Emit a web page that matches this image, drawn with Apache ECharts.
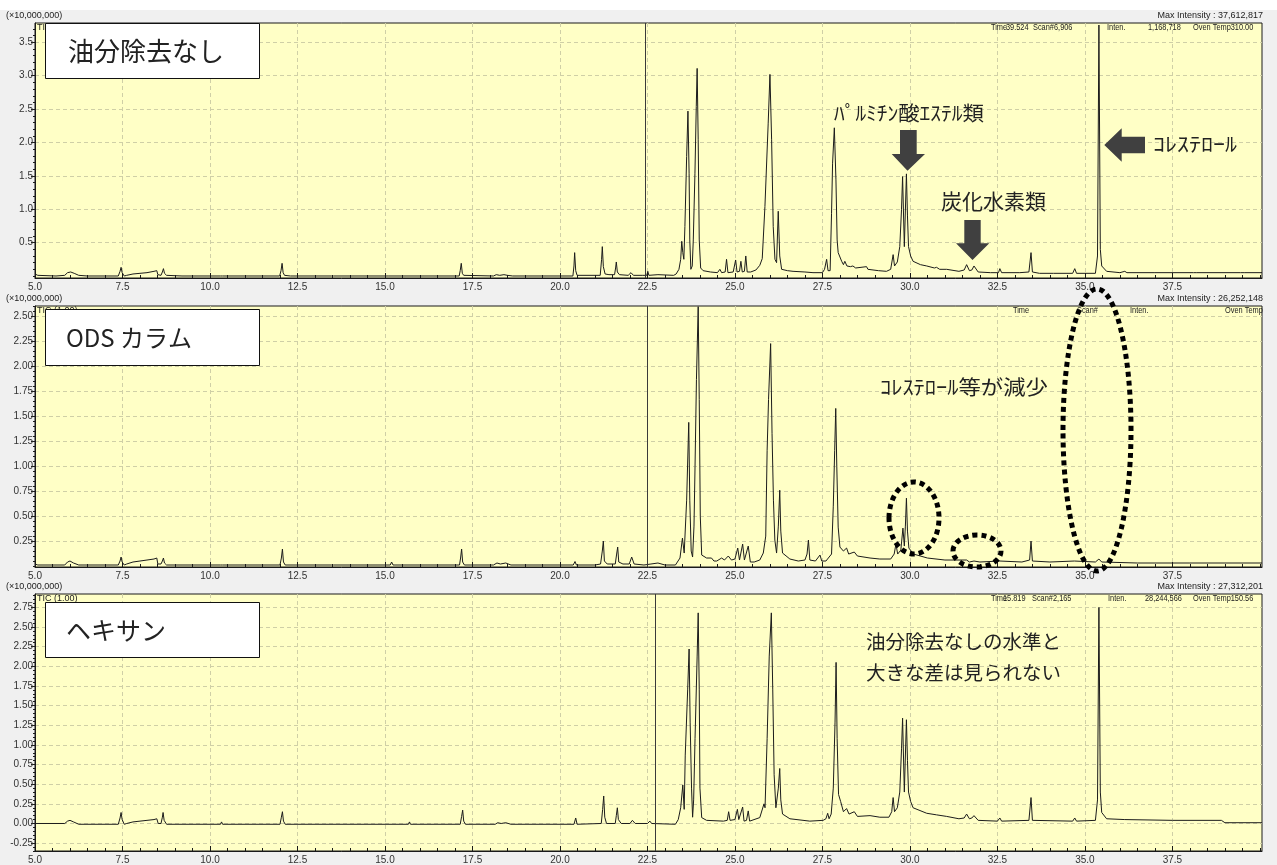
<!DOCTYPE html>
<html><head><meta charset="utf-8">
<script src="https://cdn.jsdelivr.net/npm/echarts@6/dist/echarts.min.js"></script>
<style>html,body{margin:0;padding:0;background:#f0f0f0}#c{width:1277px;height:865px}</style>
</head><body><div id="c"></div>
<script>
// ---------------- data (time [min], intensity [x10,000,000]) ----------------
const xTickLabels = [5.0, 7.5, 10.0, 12.5, 15.0, 17.5, 20.0, 22.5, 25.0, 27.5, 30.0, 32.5, 35.0, 37.5];
const xGridValues = [7.5, 10.0, 12.5, 15.0, 17.5, 20.0, 22.5, 25.0, 27.5, 30.0, 32.5, 35.0, 37.5];
const yLabelsTop = [0.5, 1.0, 1.5, 2.0, 2.5, 3.0, 3.5];
const yLabelsMid = [0.25, 0.50, 0.75, 1.00, 1.25, 1.50, 1.75, 2.00, 2.25, 2.50];
const yLabelsBot = [-0.25, 0.00, 0.25, 0.50, 0.75, 1.00, 1.25, 1.50, 1.75, 2.00, 2.25, 2.50, 2.75];
const panelTitles = ['油分除去なし', 'ODS カラム', 'ヘキサン'];
const maxIntensityTexts = ['Max Intensity : 37,612,817', 'Max Intensity : 26,252,148', 'Max Intensity : 27,312,201'];
const cursorTimes = [22.45, 22.48, 22.73];

const traceNoRemoval = [
[5.00,0.03],[5.04,0.05],[5.08,0.01],[5.60,0.00],[5.85,0.01],[5.93,0.05],[6.02,0.06],[6.12,0.04],[6.25,0.01],[6.50,0.00],
[7.38,0.00],[7.43,0.07],[7.46,0.13],[7.49,0.05],[7.55,0.00],[7.62,0.01],[7.80,0.03],[8.00,0.04],[8.20,0.05],[8.40,0.07],[8.48,0.08],[8.51,0.02],[8.60,0.01],[8.64,0.06],[8.67,0.11],[8.70,0.04],[8.76,0.01],[9.20,0.00],
[10.30,0.00],[10.33,0.02],[10.36,0.00],
[11.99,0.00],[12.03,0.08],[12.06,0.19],[12.09,0.05],[12.13,0.01],[12.30,0.00],
[13.47,0.00],[13.50,0.02],[13.53,0.00],[15.03,0.00],[15.06,0.01],[15.09,0.00],
[17.12,0.00],[17.15,0.08],[17.18,0.19],[17.21,0.04],[17.25,0.01],
[18.10,0.00],[18.18,0.02],[18.28,0.01],[18.40,0.02],[18.50,0.01],[18.65,0.00],
[20.37,0.00],[20.40,0.15],[20.42,0.35],[20.45,0.08],[20.49,0.01],
[21.15,0.01],[21.19,0.25],[21.21,0.44],[21.24,0.14],[21.29,0.03],[21.40,0.02],
[21.56,0.02],[21.59,0.12],[21.61,0.21],[21.64,0.06],[21.70,0.02],
[21.95,0.01],[22.03,0.05],[22.10,0.01],[22.35,0.01],[22.48,0.01],[22.51,0.07],[22.54,0.01],[22.80,0.02],[22.84,0.01],[23.25,0.01],
[23.32,0.03],[23.40,0.10],[23.45,0.25],[23.48,0.52],[23.51,0.35],[23.54,0.25],[23.57,0.74],[23.62,1.79],[23.657,2.47],[23.69,1.54],[23.71,0.54],[23.74,0.10],[23.78,0.15],[23.81,0.54],[23.857,1.54],[23.895,2.54],[23.92,3.11],[23.95,2.04],[23.98,0.54],[24.02,0.12],[24.09,0.08],[24.30,0.06],[24.50,0.05],
[24.57,0.10],[24.62,0.05],[24.72,0.06],[24.76,0.25],[24.80,0.05],[24.95,0.06],[25.02,0.24],[25.06,0.06],[25.13,0.07],[25.17,0.22],[25.21,0.06],[25.27,0.07],[25.31,0.30],[25.35,0.06],[25.45,0.06],[25.60,0.09],[25.71,0.16],[25.78,0.26],[25.857,1.04],[25.95,2.29],[26.00,3.02],[26.048,2.04],[26.094,0.74],[26.143,0.25],[26.19,0.20],[26.237,0.97],[26.28,0.30],[26.334,0.10],[26.50,0.08],[26.66,0.07],[27.00,0.06],[27.23,0.05],[27.50,0.05],[27.56,0.10],[27.62,0.25],[27.66,0.08],[27.70,0.06],[27.72,0.08],[27.76,0.94],[27.79,1.69],[27.84,2.22],[27.886,1.44],[27.92,0.54],[27.95,0.35],[28.05,0.22],[28.10,0.17],[28.14,0.22],[28.20,0.15],[28.30,0.14],[28.37,0.15],[28.45,0.12],[28.76,0.14],[28.80,0.10],[29.10,0.08],[29.33,0.07],[29.45,0.10],[29.52,0.32],[29.56,0.15],[29.64,0.21],[29.71,0.44],[29.76,1.00],[29.79,1.49],[29.84,0.44],[29.90,1.53],[29.93,0.90],[29.96,0.44],[30.02,0.30],[30.09,0.22],[30.30,0.17],[30.48,0.15],[30.70,0.12],[30.76,0.13],[30.85,0.10],[31.05,0.10],[31.40,0.07],[31.55,0.09],[31.62,0.17],[31.70,0.08],[31.77,0.09],[31.83,0.15],[31.95,0.06],[32.30,0.05],[32.53,0.05],[32.57,0.11],[32.62,0.05],[33.14,0.05],[33.40,0.06],[33.46,0.35],[33.50,0.06],[33.70,0.04],[34.10,0.04],[34.65,0.04],[34.71,0.11],[34.76,0.04],[35.30,0.04],[35.36,0.30],[35.40,3.76],[35.44,0.40],[35.48,0.15],[35.62,0.07],[36.00,0.05],[36.14,0.07],[36.20,0.05],[37.00,0.05],[38.10,0.05],[38.14,0.07],[38.18,0.05],[39.45,0.05],[39.50,0.07],[39.55,0.05],[40.06,0.05]
];

const traceODS = [
[5.00,0.02],[5.04,0.04],[5.08,0.01],[5.85,0.01],[5.93,0.04],[6.00,0.05],[6.10,0.03],[6.25,0.01],[7.38,0.01],[7.43,0.05],[7.46,0.09],[7.49,0.04],[7.55,0.01],[7.62,0.02],[7.80,0.04],[8.00,0.05],[8.20,0.06],[8.40,0.07],[8.48,0.08],[8.51,0.02],[8.60,0.02],[8.64,0.05],[8.67,0.08],[8.70,0.03],[8.76,0.01],[9.20,0.01],
[10.30,0.01],[10.33,0.02],[10.36,0.01],[12.00,0.01],[12.04,0.08],[12.07,0.17],[12.10,0.04],[12.15,0.01],[13.47,0.01],[13.50,0.02],[13.53,0.01],[15.15,0.01],[15.19,0.04],[15.23,0.01],
[17.13,0.01],[17.16,0.08],[17.19,0.17],[17.22,0.04],[17.27,0.01],[18.10,0.01],[18.20,0.03],[18.30,0.02],[18.45,0.03],[18.60,0.01],
[20.38,0.01],[20.43,0.045],[20.47,0.01],[21.00,0.01],[21.16,0.02],[21.21,0.15],[21.24,0.25],[21.27,0.05],[21.35,0.02],[21.58,0.02],[21.62,0.12],[21.65,0.19],[21.68,0.04],[21.80,0.02],[21.98,0.02],[22.05,0.09],[22.12,0.02],[22.40,0.01],[22.60,0.02],[22.80,0.03],[23.00,0.01],[23.30,0.01],
[23.35,0.02],[23.43,0.08],[23.50,0.28],[23.55,0.13],[23.62,0.66],[23.68,1.44],[23.71,0.66],[23.75,0.15],[23.79,0.09],[23.83,0.40],[23.86,1.00],[23.90,1.87],[23.95,2.60],[23.98,1.67],[24.01,0.50],[24.05,0.11],[24.19,0.08],
[24.33,0.08],[24.40,0.05],[24.48,0.05],[24.62,0.08],[24.70,0.06],[24.81,0.10],[24.90,0.06],[25.00,0.07],[25.08,0.18],[25.13,0.06],[25.22,0.22],[25.27,0.06],[25.38,0.20],[25.44,0.04],[25.55,0.04],[25.71,0.06],[25.81,0.13],[25.88,0.30],[25.92,1.16],[25.96,1.67],[26.02,2.23],[26.06,1.33],[26.10,0.66],[26.14,0.26],[26.19,0.13],[26.24,0.40],[26.28,0.76],[26.31,0.35],[26.36,0.13],[26.57,0.07],[26.81,0.05],[27.00,0.06],[27.06,0.12],[27.10,0.26],[27.14,0.06],[27.30,0.05],[27.43,0.11],[27.48,0.05],[27.60,0.05],[27.76,0.12],[27.81,0.60],[27.85,1.16],[27.88,1.58],[27.91,1.00],[27.95,0.39],[28.00,0.19],[28.10,0.15],[28.19,0.18],[28.25,0.12],[28.41,0.14],[28.50,0.10],[28.86,0.08],[29.14,0.07],
[29.45,0.07],[29.55,0.12],[29.60,0.22],[29.65,0.12],[29.74,0.16],[29.80,0.38],[29.84,0.20],[29.87,0.40],[29.90,0.68],[29.93,0.35],[29.97,0.18],[30.10,0.12],[30.50,0.08],[31.00,0.06],[31.62,0.06],[31.70,0.04],[31.83,0.05],[32.00,0.04],[32.57,0.05],[33.20,0.04],[33.42,0.06],[33.46,0.25],[33.50,0.05],[34.00,0.04],[34.70,0.05],[35.30,0.04],[35.40,0.07],[35.48,0.04],[36.50,0.03],[38.00,0.03],[40.06,0.03]
];

const traceHexane = [
[5.00,0.00],[5.85,0.00],[5.93,0.03],[6.00,0.04],[6.10,0.02],[6.25,-0.01],[7.38,-0.01],[7.43,0.07],[7.46,0.14],[7.49,0.05],[7.55,-0.01],[7.62,0.00],[7.80,0.02],[8.00,0.03],[8.20,0.04],[8.40,0.05],[8.48,0.06],[8.52,0.00],[8.60,0.00],[8.64,0.08],[8.66,0.14],[8.69,0.04],[8.76,-0.01],
[10.30,-0.01],[10.33,0.02],[10.36,-0.01],[12.00,-0.01],[12.04,0.08],[12.07,0.15],[12.10,0.03],[12.15,-0.01],[15.67,-0.01],[15.70,0.02],[15.73,-0.01],
[17.15,-0.01],[17.19,0.09],[17.22,0.17],[17.25,0.03],[17.30,-0.01],[18.15,-0.01],[18.22,0.01],[18.32,0.00],[18.45,0.01],[18.60,-0.01],
[20.40,-0.01],[20.45,0.07],[20.49,-0.01],[21.18,0.00],[21.22,0.18],[21.25,0.35],[21.28,0.08],[21.33,0.00],[21.58,0.00],[21.61,0.10],[21.64,0.20],[21.67,0.05],[21.75,0.00],[22.00,0.00],[22.07,0.04],[22.15,0.00],[22.50,0.00],[22.57,0.03],[22.62,0.00],[23.30,-0.01],
[23.38,0.05],[23.45,0.20],[23.51,0.49],[23.55,0.18],[23.58,0.87],[23.65,1.71],[23.69,2.22],[23.72,1.29],[23.76,0.45],[23.79,0.08],[23.82,0.30],[23.86,1.08],[23.92,2.13],[23.95,2.68],[23.98,1.71],[24.00,0.45],[24.05,0.075],[24.19,0.04],
[24.67,0.03],[24.78,0.04],[24.82,0.15],[24.86,0.04],[25.00,0.05],[25.07,0.18],[25.11,0.05],[25.22,0.21],[25.26,0.03],[25.33,0.04],[25.38,0.16],[25.42,0.03],[25.71,0.075],[25.83,0.25],[25.86,0.20],[25.92,1.08],[25.98,2.13],[26.04,2.68],[26.08,1.71],[26.12,0.62],[26.17,0.20],[26.24,0.45],[26.28,0.70],[26.31,0.30],[26.36,0.12],[26.57,0.06],[27.14,0.03],[27.52,0.04],[27.60,0.06],[27.65,0.13],[27.69,0.06],[27.75,0.12],[27.81,0.45],[27.86,1.29],[27.89,2.05],[27.92,1.08],[27.96,0.37],[28.02,0.28],[28.10,0.15],[28.19,0.19],[28.26,0.12],[28.41,0.15],[28.50,0.09],[28.86,0.10],[29.14,0.08],
[29.40,0.08],[29.48,0.15],[29.52,0.33],[29.56,0.15],[29.64,0.20],[29.71,0.40],[29.76,0.95],[29.79,1.34],[29.84,0.40],[29.90,1.32],[29.93,0.80],[29.96,0.40],[30.02,0.28],[30.09,0.20],[30.48,0.13],[30.76,0.11],[31.05,0.09],[31.40,0.06],[31.55,0.07],[31.62,0.12],[31.70,0.06],[31.77,0.07],[31.83,0.10],[31.95,0.04],[32.50,0.03],[32.57,0.07],[32.62,0.03],[33.40,0.04],[33.46,0.33],[33.50,0.04],[34.65,0.03],[34.71,0.07],[34.76,0.03],[35.30,0.04],[35.36,0.30],[35.40,2.75],[35.44,0.40],[35.48,0.14],[35.62,0.06],[36.14,0.05],[37.50,0.04],[38.90,0.04],[39.00,0.01],[40.06,0.01]
];

// ---------------- layout ----------------
const FONT_SMALL = "'Liberation Sans Narrow','Liberation Sans',Arial,sans-serif";
const FONT_JP = "'Noto Sans CJK JP','Noto Sans CJK SC',sans-serif";
const X_MIN = 5, X_MAX = 40.06;
const PLOT_LEFT = 35, PLOT_WIDTH = 1227;

const panels = [
  {top: 23, height: 255, yMin: -0.03, yMax: 3.79, labels: yLabelsTop, dec: 1, minor: 0.1, data: traceNoRemoval},
  {top: 306, height: 261, yMin: -0.01, yMax: 2.607, labels: yLabelsMid, dec: 2, minor: 0.05, data: traceODS},
  {top: 594, height: 260, yMin: -0.35, yMax: 2.92, labels: yLabelsBot, dec: 2, minor: 0.05, data: traceHexane}
];

function steps(lo, hi, step) {
  const out = [];
  for (let i = Math.ceil(lo / step - 1e-9); i * step <= hi + 1e-9; i++) out.push(+(i * step).toFixed(4));
  return out;
}
const xMinorValues = steps(X_MIN, X_MAX, 0.5);

const grid = [], xAxis = [], yAxis = [], series = [];
const axisColor = '#1a1a1a';
const gridLineStyle = {type: [4, 3], color: '#cfcfa6', width: 1};

panels.forEach((p, i) => {
  grid.push({left: PLOT_LEFT, top: p.top, width: PLOT_WIDTH, height: p.height, show: true,
    backgroundColor: '#ffffc6', borderColor: axisColor, borderWidth: 1, containLabel: false});
  xAxis.push({type: 'value', gridIndex: i, min: X_MIN, max: X_MAX, position: 'bottom',
    axisLine: {onZero: false, lineStyle: {color: axisColor, width: 1}},
    axisTick: {inside: true, length: 5, customValues: xGridValues, lineStyle: {color: axisColor}},
    axisLabel: {customValues: xTickLabels, formatter: v => v.toFixed(1), fontSize: 10, color: '#333', margin: 4, fontFamily: FONT_SMALL},
    splitLine: {show: true, lineStyle: gridLineStyle}});
  xAxis.push({type: 'value', gridIndex: i, min: X_MIN, max: X_MAX, position: 'bottom',
    axisLine: {show: false, onZero: false},
    axisTick: {inside: true, length: 3, customValues: xMinorValues, lineStyle: {color: axisColor}},
    axisLabel: {show: false}, splitLine: {show: false}});
  yAxis.push({type: 'value', gridIndex: i, min: p.yMin, max: p.yMax, position: 'left',
    axisLine: {onZero: false, lineStyle: {color: axisColor, width: 1}},
    axisTick: {inside: false, length: 4, customValues: p.labels, lineStyle: {color: axisColor}},
    axisLabel: {customValues: p.labels, formatter: v => v.toFixed(p.dec), fontSize: 10, color: '#333', margin: 2, fontFamily: FONT_SMALL},
    splitLine: {show: true, lineStyle: gridLineStyle}});
  yAxis.push({type: 'value', gridIndex: i, min: p.yMin, max: p.yMax, position: 'left',
    axisLine: {show: false, onZero: false},
    axisTick: {inside: false, length: 2, customValues: steps(p.yMin, p.yMax, p.minor), lineStyle: {color: axisColor}},
    axisLabel: {show: false}, splitLine: {show: false}});
  series.push({type: 'line', xAxisIndex: 2 * i, yAxisIndex: 2 * i, data: p.data, showSymbol: false, symbol: 'none',
    lineStyle: {color: '#1c1c1c', width: 1}, clip: true, silent: true, z: 3,
    markLine: {silent: true, symbol: ['none', 'none'], label: {show: false}, animation: false,
      lineStyle: {color: '#3a3a3a', width: 1, type: 'solid'}, data: [{xAxis: cursorTimes[i]}]}});
});

// ---------------- annotations ----------------
const g = [];
function txt(x, y, text, font, align, extra) {
  g.push(Object.assign({type: 'text', x, y, z: 50, silent: true,
    style: {text, font, fill: '#222', align: align || 'left', verticalAlign: 'middle',
      textAlign: align || 'left', textVerticalAlign: 'middle'}}, extra || {}));
}
g.push({type: 'rect', shape: {x: 0, y: 0, width: 1277, height: 10}, style: {fill: '#ffffff'}, z: 1, silent: true});
const smallFont9 = '9px ' + FONT_SMALL;
panels.forEach((p, i) => {
  txt(6, p.top - 7, '(×10,000,000)', smallFont9);
  txt(1263, p.top - 7, maxIntensityTexts[i], smallFont9, 'right');
  txt(37, p.top + 5, i === 0 ? 'TIC' : 'TIC (1.00)', smallFont9);
});
// header read-outs inside plots: [left edge, text]
function header(y, items) {
  items.forEach(a => txt(a[0], y, a[1], '9px ' + FONT_SMALL, 'left', {scaleX: 0.82}));
}
header(28, [[991,'Time'],[1006,'39.524'],[1033,'Scan#'],[1054,'6,906'],[1107,'Inten.'],[1148,'1,168,718'],[1193,'Oven Temp310.00']]);
header(311, [[1013,'Time'],[1077,'Scan#'],[1130,'Inten.'],[1225,'Oven Temp']]);
header(599, [[991,'Time'],[1003,'15.819'],[1032,'Scan#'],[1053,'2,165'],[1108,'Inten.'],[1145,'28,244,566'],[1193,'Oven Temp150.56']]);

// title boxes
const boxes = [[45, 23, 214, 55, 68, 51, 26], [45, 309, 214, 56, 66, 338, 24], [45, 602, 214, 55, 66, 630, 25]];
boxes.forEach((b, i) => {
  g.push({type: 'rect', shape: {x: b[0] + 0.5, y: b[1] + 0.5, width: b[2], height: b[3]}, style: {fill: '#ffffff', stroke: '#111', lineWidth: 1}, z: 60, silent: true});
  txt(b[4], b[5], panelTitles[i], b[6] + 'px ' + FONT_JP, 'left', {z: 61});
});

// panel 1 labels and arrows
const arrowFill = '#404040';
txt(834, 113, 'ﾊﾟﾙﾐﾁﾝ酸ｴｽﾃﾙ類', '20px ' + FONT_JP, 'left', {scaleX: 1.07});
txt(941, 201, '炭化水素類', '21px ' + FONT_JP);
txt(1153, 144, 'ｺﾚｽﾃﾛｰﾙ', '20px ' + FONT_JP, 'left', {scaleX: 1.2});
g.push({type: 'polygon', z: 50, silent: true, style: {fill: arrowFill},
  shape: {points: [[900,130],[916.7,130],[916.7,154],[925,154],[907.5,170.7],[891.7,154],[900,154]]}});
g.push({type: 'polygon', z: 50, silent: true, style: {fill: arrowFill},
  shape: {points: [[964.3,220],[980.7,220],[980.7,243.3],[989.3,243.3],[972.5,260],[956,243.3],[964.3,243.3]]}});
g.push({type: 'polygon', z: 50, silent: true, style: {fill: arrowFill},
  shape: {points: [[1104.3,145],[1121.7,128.3],[1121.7,136.7],[1145,136.7],[1145,153.3],[1121.7,153.3],[1121.7,161.7]]}});

// panel 2 annotation
txt(880, 387, 'ｺﾚｽﾃﾛｰﾙ等が減少', '20px ' + FONT_JP, 'left', {scaleX: 1.12});
const dotted = {fill: 'none', stroke: '#000', lineWidth: 5, lineDash: [5, 4]};
g.push({type: 'ellipse', z: 50, silent: true, shape: {cx: 914, cy: 518, rx: 25, ry: 36}, style: dotted});
g.push({type: 'ellipse', z: 50, silent: true, shape: {cx: 977, cy: 551, rx: 24, ry: 16}, style: dotted});
g.push({type: 'ellipse', z: 50, silent: true, shape: {cx: 1097, cy: 430, rx: 34, ry: 141}, style: dotted});

// panel 3 annotation
txt(866, 642, '油分除去なしの水準と', '19.5px ' + FONT_JP);
txt(866, 673, '大きな差は見られない', '19.5px ' + FONT_JP);

const chart = echarts.init(document.getElementById('c'), null, {renderer: 'canvas'});
chart.setOption({
  animation: false,
  backgroundColor: '#f0f0f0',
  grid, xAxis, yAxis, series,
  graphic: {elements: g}
});
</script>
</body></html>
